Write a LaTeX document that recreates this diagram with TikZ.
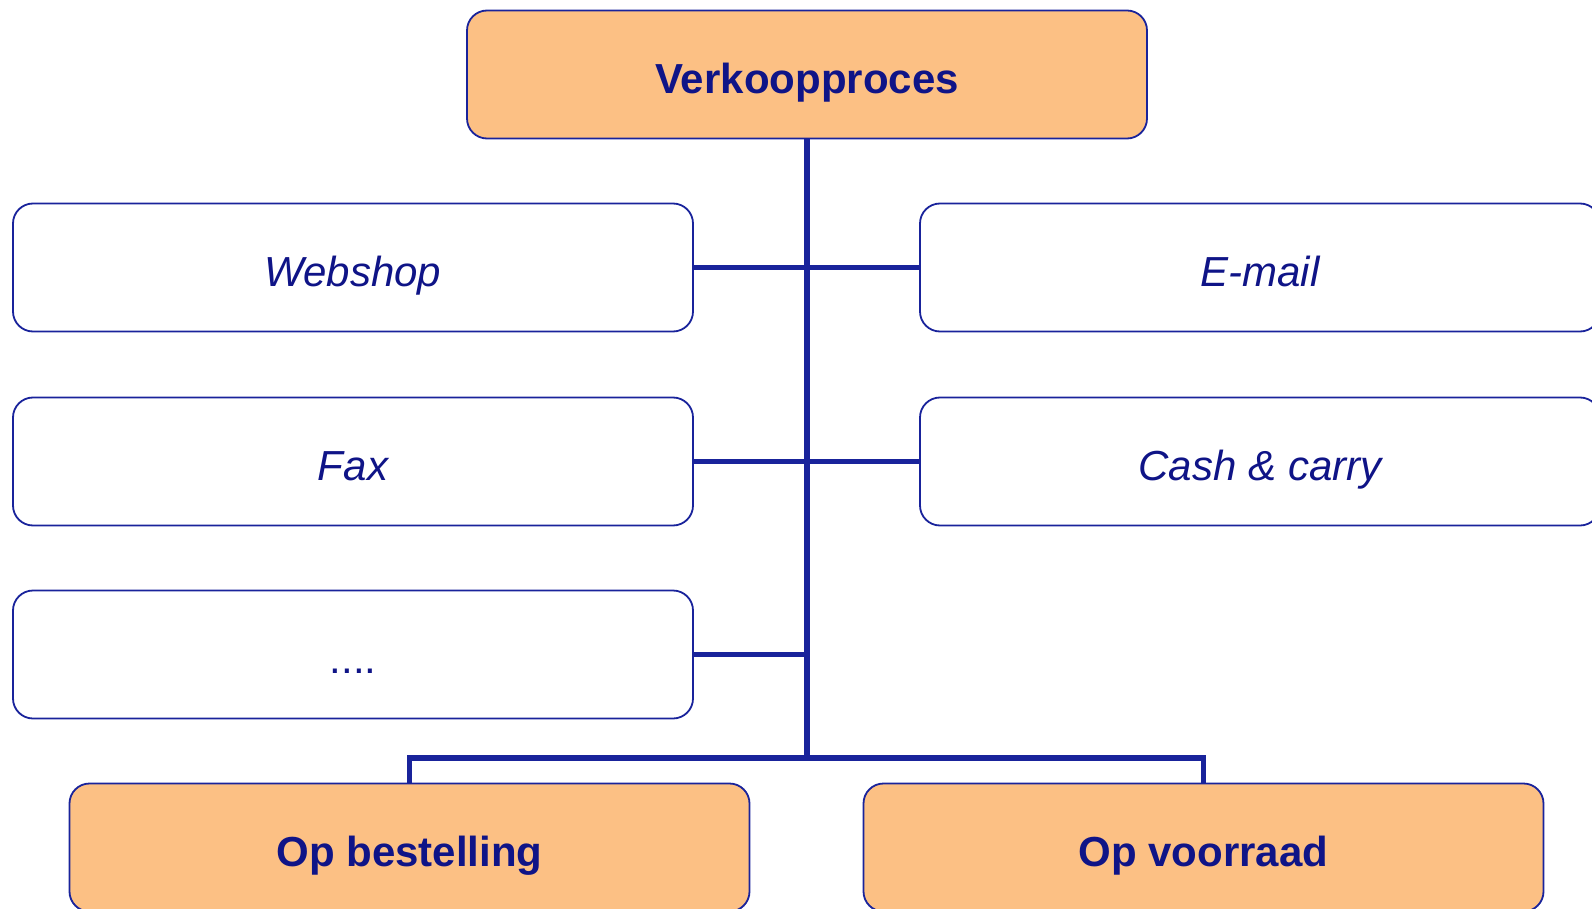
\documentclass[tikz,border=0pt]{standalone}
\usepackage{fontspec}
\setmainfont{Liberation Sans}
\definecolor{box edge}{RGB}{25,35,155}
\definecolor{box text}{RGB}{15,20,135}
\definecolor{head area}{RGB}{252,192,132}
\colorlet{link line}{box edge}
\tikzset{stepbox/.style={draw=box edge, line width=1.8pt, rounded corners=20pt,
      minimum width=680pt, minimum height=128pt, inner sep=0pt,
      text=box text, text height=46pt, text depth=8pt},
    headbox/.style={stepbox, fill=head area, font=\fontsize{42}{50}\selectfont\bfseries},
    channelbox/.style={stepbox, fill=white, font=\fontsize{42}{50}\selectfont\itshape},
    link/.style={draw=link line, line width=5.5pt}}

\begin{document}
\begin{tikzpicture}[x=1pt, y=-1pt]
    \useasboundingbox (0,0) rectangle (1592,909);
    \clip (0,0) rectangle (1592,909);
    \node[headbox]    (proces)     at (807,74.5)   {Verkoopproces};
    \node[channelbox] (webshop)    at (353,267.5)  {Webshop};
    \node[channelbox] (fax)        at (353,461.5)  {Fax};
    \node[channelbox] (overig)     at (353,654.5)  {\upshape ....};
    \node[channelbox] (email)      at (1260,267.5) {E-mail};
    \node[channelbox] (cash)       at (1260,461.5) {Cash \& carry};
    \node[headbox]    (bestelling) at (409.5,847.5) {Op bestelling};
    \node[headbox]    (voorraad)   at (1203.5,847.5) {Op voorraad};
    \coordinate (bus) at (807,758);
    \draw[link] (proces.south) -- (bus);
    \draw[link] (webshop.east) -- (email.west);
    \draw[link] (fax.east) -- (cash.west);
    \draw[link] (overig.east) -- (overig.east -| bus);
    \draw[link] (bestelling.north) |- (bus) -| (voorraad.north);
\end{tikzpicture}
\end{document}
